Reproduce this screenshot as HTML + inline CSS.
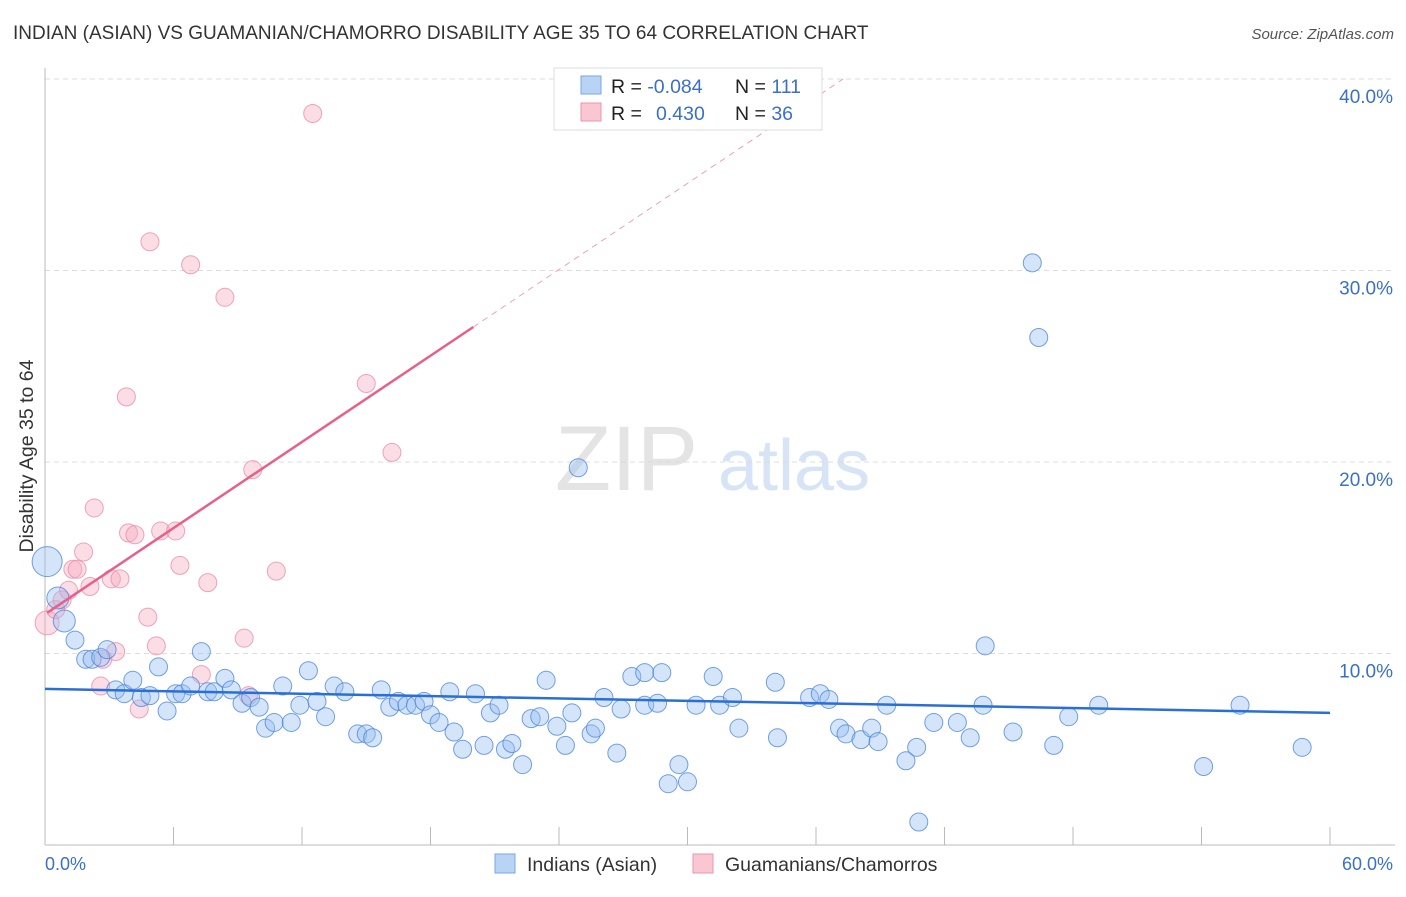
<!DOCTYPE html>
<html><head><meta charset="utf-8"><style>
body{margin:0;background:#fff;font-family:"Liberation Sans",sans-serif;}
svg text{font-family:"Liberation Sans",sans-serif;}
</style></head><body>
<svg id="chart" width="1406" height="892" xmlns="http://www.w3.org/2000/svg">
<text x="13" y="39" font-size="19" fill="#333">INDIAN (ASIAN) VS GUAMANIAN/CHAMORRO DISABILITY AGE 35 TO 64 CORRELATION CHART</text>
<text x="1394" y="39" font-size="15" fill="#555" text-anchor="end" font-style="italic">Source: ZipAtlas.com</text>
<g><text x="555" y="490" font-size="92" fill="#e4e4e4" font-family="Liberation Serif">ZIP</text><text x="718" y="490" font-size="72" fill="#d6e4f5">atlas</text></g>
<g id="grid"></g>
<line x1="45" y1="68" x2="45" y2="845" stroke="#bbb"/>
<line x1="45" y1="845" x2="1395" y2="845" stroke="#bbb"/>
<text transform="translate(33,456) rotate(-90)" font-size="19.5" fill="#333" text-anchor="middle">Disability Age 35 to 64</text>
<text x="45" y="870" font-size="18" fill="#3a70c8">0.0%</text>
<text x="1393" y="870" font-size="18" fill="#3a70c8" text-anchor="end">60.0%</text>
<g id="pts"></g>
<g id="lines"></g>
<g>
<rect x="554" y="68" width="268" height="62" fill="#fff" stroke="#ddd"/>
<rect x="581" y="76" width="20" height="18" fill="#b9d3f5" stroke="#7aa6e6"/>
<rect x="581" y="103" width="20" height="18" fill="#f9c6d4" stroke="#ec94ad"/>
<text x="611" y="93" font-size="19.5" fill="#222">R = <tspan fill="#3a70c8">-0.084</tspan><tspan x="735">N = </tspan><tspan fill="#3a70c8">111</tspan></text>
<text x="611" y="120" font-size="19.5" fill="#222">R = <tspan x="656" fill="#3a70c8">0.430</tspan><tspan x="735">N = </tspan><tspan fill="#3a70c8">36</tspan></text>
</g>
<g>
<rect x="495" y="854" width="20" height="19" fill="#b9d3f5" stroke="#7aa6e6"/>
<text x="527" y="871" font-size="19.5" fill="#333">Indians (Asian)</text>
<rect x="693" y="854" width="20" height="19" fill="#f9c6d4" stroke="#ec94ad"/>
<text x="725" y="871" font-size="19.5" fill="#333">Guamanians/Chamorros</text>
</g>
</svg>
<script>
const yTicks=[10,20,30,40];
const yTickLabels=["10.0%","20.0%","30.0%","40.0%"];
const xTicks=[0,6,12,18,24,30,36,42,48,54,60];
const blueX=[0.1,0.6,0.9,1.4,1.9,2.2,2.6,2.9,3.3,3.7,4.1,4.5,4.9,5.3,5.7,6.1,6.4,6.8,7.3,7.6,7.9,8.4,8.7,9.2,9.6,10.0,10.3,10.7,11.1,11.5,11.9,12.3,12.7,13.1,13.5,14.0,14.6,15.0,15.3,15.7,16.1,16.5,16.9,17.3,17.7,18.0,18.4,18.9,19.1,19.5,20.1,20.5,20.8,21.2,21.5,21.8,22.3,22.7,23.1,23.4,23.9,24.3,24.6,24.9,25.5,25.7,26.1,26.7,26.9,27.4,28.0,28.0,28.6,28.8,29.1,29.6,30.0,30.4,31.2,31.5,32.1,32.4,34.1,34.2,35.7,36.2,36.6,37.1,37.4,38.1,38.6,38.9,39.3,40.2,40.7,40.8,41.5,42.6,43.2,43.8,43.9,45.2,46.1,46.4,47.1,47.8,49.2,54.1,55.8,58.7];
const blueY=[14.8,12.9,11.7,10.7,9.7,9.7,9.8,10.2,8.1,7.9,8.6,7.7,7.8,9.3,7.0,7.9,7.9,8.3,10.1,8.0,8.0,8.7,8.1,7.4,7.7,7.2,6.1,6.4,8.3,6.4,7.3,9.1,7.5,6.7,8.3,8.0,5.8,5.8,5.6,8.1,7.2,7.5,7.3,7.3,7.5,6.8,6.4,8.0,5.9,5.0,7.9,5.2,6.9,7.3,5.0,5.3,4.2,6.6,6.7,8.6,6.2,5.2,6.9,19.7,5.8,6.1,7.7,4.8,7.1,8.8,9.0,7.3,7.4,9.0,3.2,4.2,3.3,7.3,8.8,7.3,7.7,6.1,8.5,5.6,7.7,7.9,7.6,6.1,5.8,5.5,6.1,5.4,7.3,4.4,5.1,1.2,6.4,6.4,5.6,7.3,10.4,5.9,30.4,26.5,5.2,6.7,7.3,4.1,7.3,5.1];
const pinkX=[0.1,0.5,0.8,1.1,1.3,1.5,1.8,2.1,2.3,2.6,2.7,3.1,3.3,3.5,3.8,3.9,4.2,4.4,4.8,4.9,5.2,5.4,6.1,6.3,6.8,7.3,7.6,8.4,9.3,9.5,9.7,10.8,12.5,15.0,16.2];
const pinkY=[11.6,12.3,12.8,13.3,14.4,14.4,15.3,13.5,17.6,8.3,9.7,13.9,10.1,13.9,23.4,16.3,16.2,7.1,11.9,31.5,10.4,16.4,16.4,14.6,30.3,8.9,13.7,28.6,10.8,7.8,19.6,14.3,38.2,24.1,20.5];
const blueTrend=[8.15,6.9];
const pinkTrend=[12.05,0.75];
const NS="http://www.w3.org/2000/svg";
const X=v=>45+v*1285/60, Y=v=>845-v*19.15;
function mk(t,a,p){const e=document.createElementNS(NS,t);for(const k in a)e.setAttribute(k,a[k]);p.appendChild(e);return e;}
const grid=document.getElementById('grid');
yTicks.forEach((t,i)=>{
 const l=mk('line',{x1:45,x2:1395,y1:Y(t),y2:Y(t),stroke:'#ddd','stroke-dasharray':'5,4'},grid);
 
 
 const tx=mk('text',{x:1393,y:Y(t)+24,'font-size':19,fill:'#3a70c8','text-anchor':'end'},grid);
 tx.textContent=yTickLabels[i];
 
 
});
xTicks.forEach(t=>{
 const l=mk('line',{x1:X(t),x2:X(t),y1:827,y2:845,stroke:'#bbb'},grid);
 
 
});
const pts=document.getElementById('pts');
pinkX.forEach((x,i)=>{
 const c=mk('circle',{cx:X(x),cy:Y(pinkY[i]),r:i==0?12:9,fill:'rgba(246,170,192,0.4)',stroke:'rgba(232,130,160,0.7)'},pts);
 
 
});
blueX.forEach((x,i)=>{
 const c=mk('circle',{cx:X(x),cy:Y(blueY[i]),r:i==0?15:(i<3?11:9),fill:'rgba(150,190,240,0.4)',stroke:'rgba(70,130,220,0.75)'},pts);
 
 
});
const lines=document.getElementById('lines');
let b=mk('line',{x1:X(0),y1:Y(blueTrend[0]),x2:X(60),y2:Y(blueTrend[1]),stroke:'#2a6fd6','stroke-width':2.5},lines);


const pe=(40-pinkTrend[0])/pinkTrend[1];
let p=mk('line',{x1:X(0.1),y1:Y(pinkTrend[0]+0.1*pinkTrend[1]),x2:X(20),y2:Y(pinkTrend[0]+20*pinkTrend[1]),stroke:'#e8608a','stroke-width':2.5},lines);


let pd=mk('line',{x1:X(20),y1:Y(pinkTrend[0]+20*pinkTrend[1]),x2:X(pe),y2:Y(40),stroke:'#eaa0b8','stroke-width':1,'stroke-dasharray':'6,5'},lines);


</script>
</body></html>
